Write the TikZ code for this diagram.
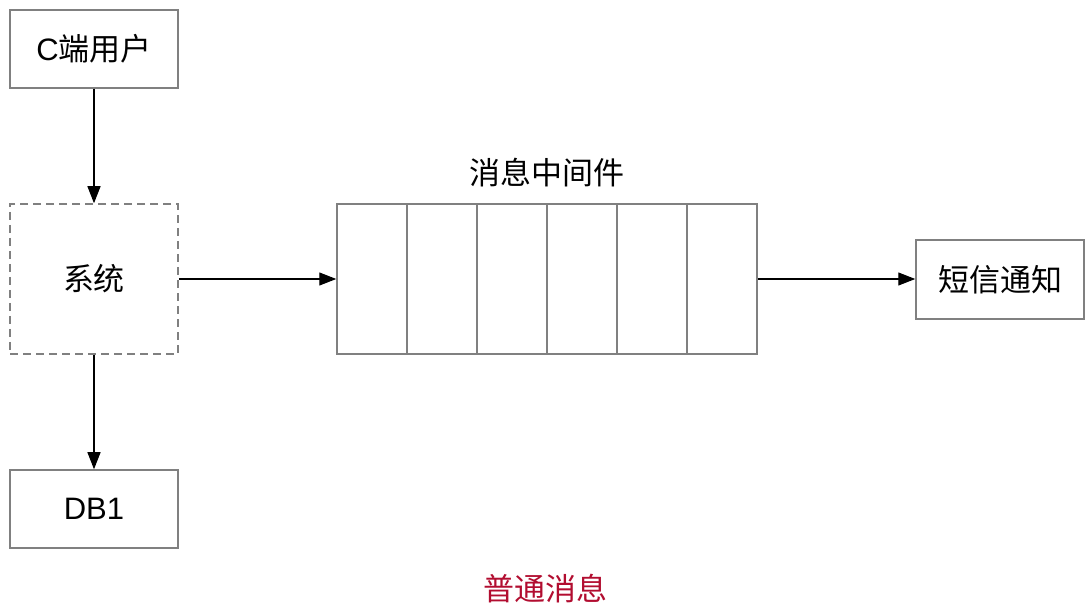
\documentclass[tikz,border=0pt]{standalone}
\usepackage{fontspec}
\setmainfont{Liberation Sans}
\newfontfamily\cjk{Noto Sans CJK SC}
\usetikzlibrary{arrows.meta}
\definecolor{boxgray}{HTML}{808080}
\definecolor{capred}{HTML}{B20D30}
\tikzset{
  box/.style={draw=boxgray, line width=1.5pt, fill=white, minimum width=168pt, minimum height=78pt, inner sep=0pt, font=\fontsize{31}{36}\selectfont},
  dbox/.style={box, dashed, dash pattern=on 8pt off 5pt, minimum height=150pt},
  cell/.style={draw=boxgray, line width=1.5pt, minimum width=70pt, minimum height=150pt, inner sep=0pt},
  conn/.style={draw=black, line width=1.2pt, -{Triangle[length=17pt,width=13pt]}},
  lbl/.style={font=\cjk\fontsize{31}{36}\selectfont, inner sep=0pt}
}
\begin{document}
\begin{tikzpicture}[x=1pt,y=-1pt]
\useasboundingbox[fill=white] (0,0) rectangle (1088,612);
\node[box] (user) at (94,49) {C{\cjk 端用户}};
\node[dbox] (sys) at (94,279) {\cjk 系统};
\node[box] (db) at (94,509) {DB1};
\node[box, minimum height=79pt] (sms) at (1000,279.5) {\cjk 短信通知};
\foreach \i in {1,...,6} {
  \node[cell] (c\i) at ({337+70*(\i-1)+35},279) {};
}
\node[lbl] (mqlabel) at (547,173) {消息中间件};
\node[lbl, text=capred] (title) at (545,589) {普通消息};
\draw[conn] (user) -- (sys);
\draw[conn] (sys) -- (db);
\draw[conn] (sys.east) -- (c1.west);
\draw[conn] (c6.east) -- (c6.east -| sms.west);
\end{tikzpicture}
\end{document}
